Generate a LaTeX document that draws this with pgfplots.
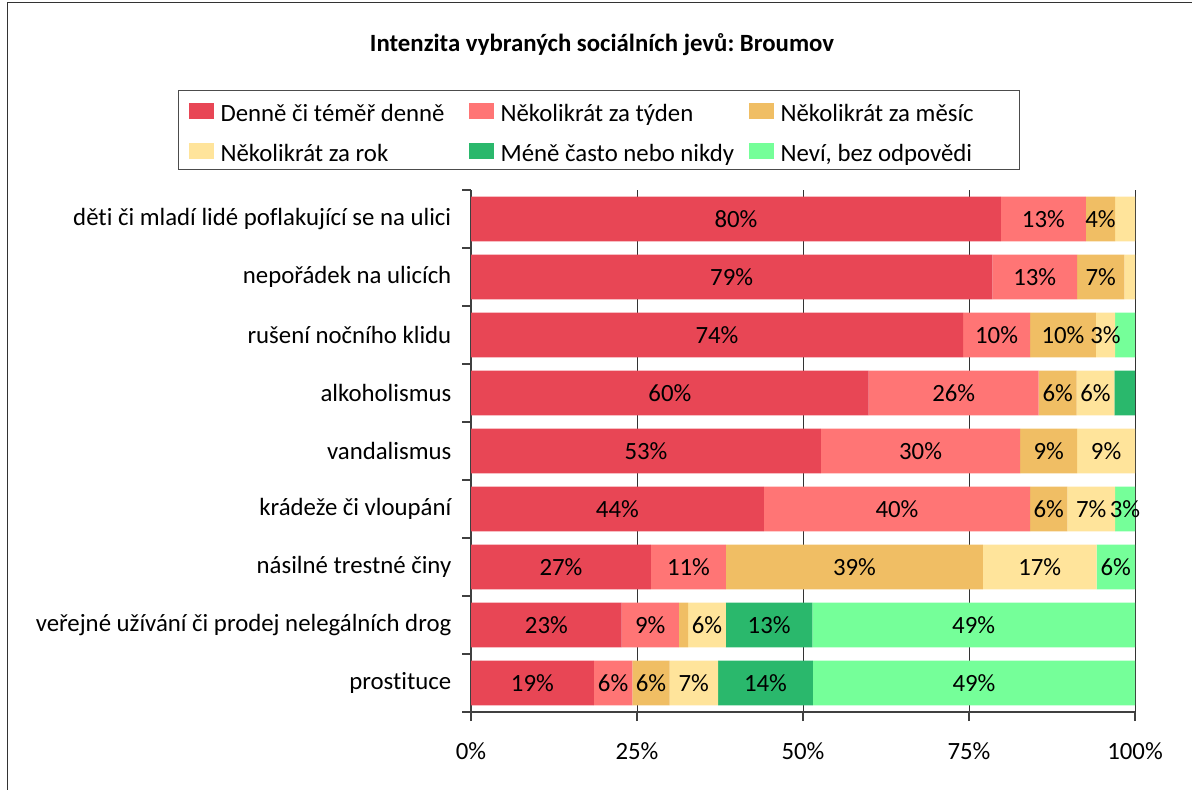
\documentclass[border=0pt]{standalone}
\usepackage{pgfplots}
\pgfplotsset{compat=1.18}
\usepackage{fontspec}
\setmainfont{Carlito}[Ligatures=NoCommon]
\definecolor{cA}{RGB}{232,70,85}
\definecolor{cB}{RGB}{255,117,117}
\definecolor{cC}{RGB}{240,190,100}
\definecolor{cD}{RGB}{255,228,155}
\definecolor{cE}{RGB}{42,184,108}
\definecolor{cF}{RGB}{117,255,153}
\begin{document}
\frenchspacing
\fontsize{12.4}{14.8}\selectfont
\begin{tikzpicture}
\useasboundingbox (0,0) rectangle (596pt,394.5pt);
\draw[black!80, line width=0.8pt] (3.8pt,-5pt) -- (3.8pt,393.2pt) -- (600pt,393.2pt);
\node[font=\bfseries] at (301pt,372pt) {Intenzita vybraných sociálních jevů: Broumov};
\begin{axis}[
  at={(235.5pt,38.5pt)}, anchor=south west,
  scale only axis, width=332pt, height=261pt,
  xbar stacked, bar width=0.77,
  xmin=0, xmax=100, ymin=-0.5, ymax=8.5, y dir=reverse,
  clip=false,
  axis x line*=bottom, axis y line*=left,
  axis line style={black!75, line width=0.6pt},
  xtick={0,25,50,75,100}, xticklabels={0\%,25\%,50\%,75\%,100\%},
  xticklabel style={yshift=-6.5pt},
  xmajorgrids, grid style={black!80, line width=0.5pt},
  ytick={-0.5,0.5,1.5,2.5,3.5,4.5,5.5,6.5,7.5,8.5},
  yticklabels={děti či mladí lidé poflakující se na ulici, nepořádek na ulicích, rušení nočního klidu, alkoholismus, vandalismus, krádeže či vloupání, násilné trestné činy, veřejné užívání či prodej nelegálních drog, prostituce, {}},
  yticklabel style={yshift=-14.5pt, xshift=-1pt},
  tick align=outside, major tick length=4.5pt,
  tick style={black!75, line width=0.6pt},
  point meta=explicit symbolic,
  nodes near coords={\pgfplotspointmeta},
  every node near coord/.append style={anchor=center, text=black},
  legend columns=3,
  legend style={at={(-0.4413,1.1916)}, anchor=north west, draw=black!70, line width=0.6pt,
    inner xsep=5pt, inner ysep=0pt,
    nodes={text height=11.75pt, text depth=0.5pt, inner ysep=3.75pt, inner xsep=3.5pt},
    /tikz/every even column/.append style={column sep=9.5pt}},
  legend image code/.code={\fill[#1] (0pt,-4.5pt) rectangle (12.5pt,3.5pt);},
]
\addplot[fill=cA, draw=none] coordinates {
 (79.8,0) [80\%] (78.5,1) [79\%] (74.1,2) [74\%] (59.9,3) [60\%] (52.7,4) [53\%]
 (44.1,5) [44\%] (27.1,6) [27\%] (22.7,7) [23\%] (18.5,8) [19\%]};
\addlegendentry{\makebox[111pt][l]{Denně či téměř denně}}
\addplot[fill=cB, draw=none] coordinates {
 (12.8,0) [13\%] (12.8,1) [13\%] (10.1,2) [10\%] (25.6,3) [26\%] (30.0,4) [30\%]
 (40.1,5) [40\%] (11.3,6) [11\%] (8.6,7) [9\%] (5.8,8) [6\%]};
\addlegendentry{\makebox[111pt][l]{Několikrát za týden}}
\addplot[fill=cC, draw=none] coordinates {
 (4.4,0) [4\%] (7.1,1) [7\%] (9.9,2) [10\%] (5.7,3) [6\%] (8.6,4) [9\%]
 (5.6,5) [6\%] (38.7,6) [39\%] (1.4,7) [\relax] (5.6,8) [6\%]};
\addlegendentry{\makebox[111pt][l]{Několikrát za měsíc}}
\addplot[fill=cD, draw=none] coordinates {
 (3.0,0) [\relax] (1.6,1) [\relax] (2.9,2) [3\%] (5.7,3) [6\%] (8.7,4) [9\%]
 (7.2,5) [7\%] (17.1,6) [17\%] (5.7,7) [6\%] (7.3,8) [7\%]};
\addlegendentry{\makebox[111pt][l]{Několikrát za rok}}
\addplot[fill=cE, draw=none] coordinates {
 (0,0) [\relax] (0,1) [\relax] (0,2) [\relax] (3.1,3) [\relax] (0,4) [\relax]
 (0,5) [\relax] (0,6) [\relax] (13.0,7) [13\%] (14.3,8) [14\%]};
\addlegendentry{\makebox[111pt][l]{Méně často nebo nikdy}}
\addplot[fill=cF, draw=none] coordinates {
 (0,0) [\relax] (0,1) [\relax] (3.0,2) [\relax] (0,3) [\relax] (0,4) [\relax]
 (3.0,5) [3\%] (5.8,6) [6\%] (48.6,7) [49\%] (48.5,8) [49\%]};
\addlegendentry{\makebox[111pt][l]{Neví, bez odpovědi}}
\end{axis}
\end{tikzpicture}
\end{document}
